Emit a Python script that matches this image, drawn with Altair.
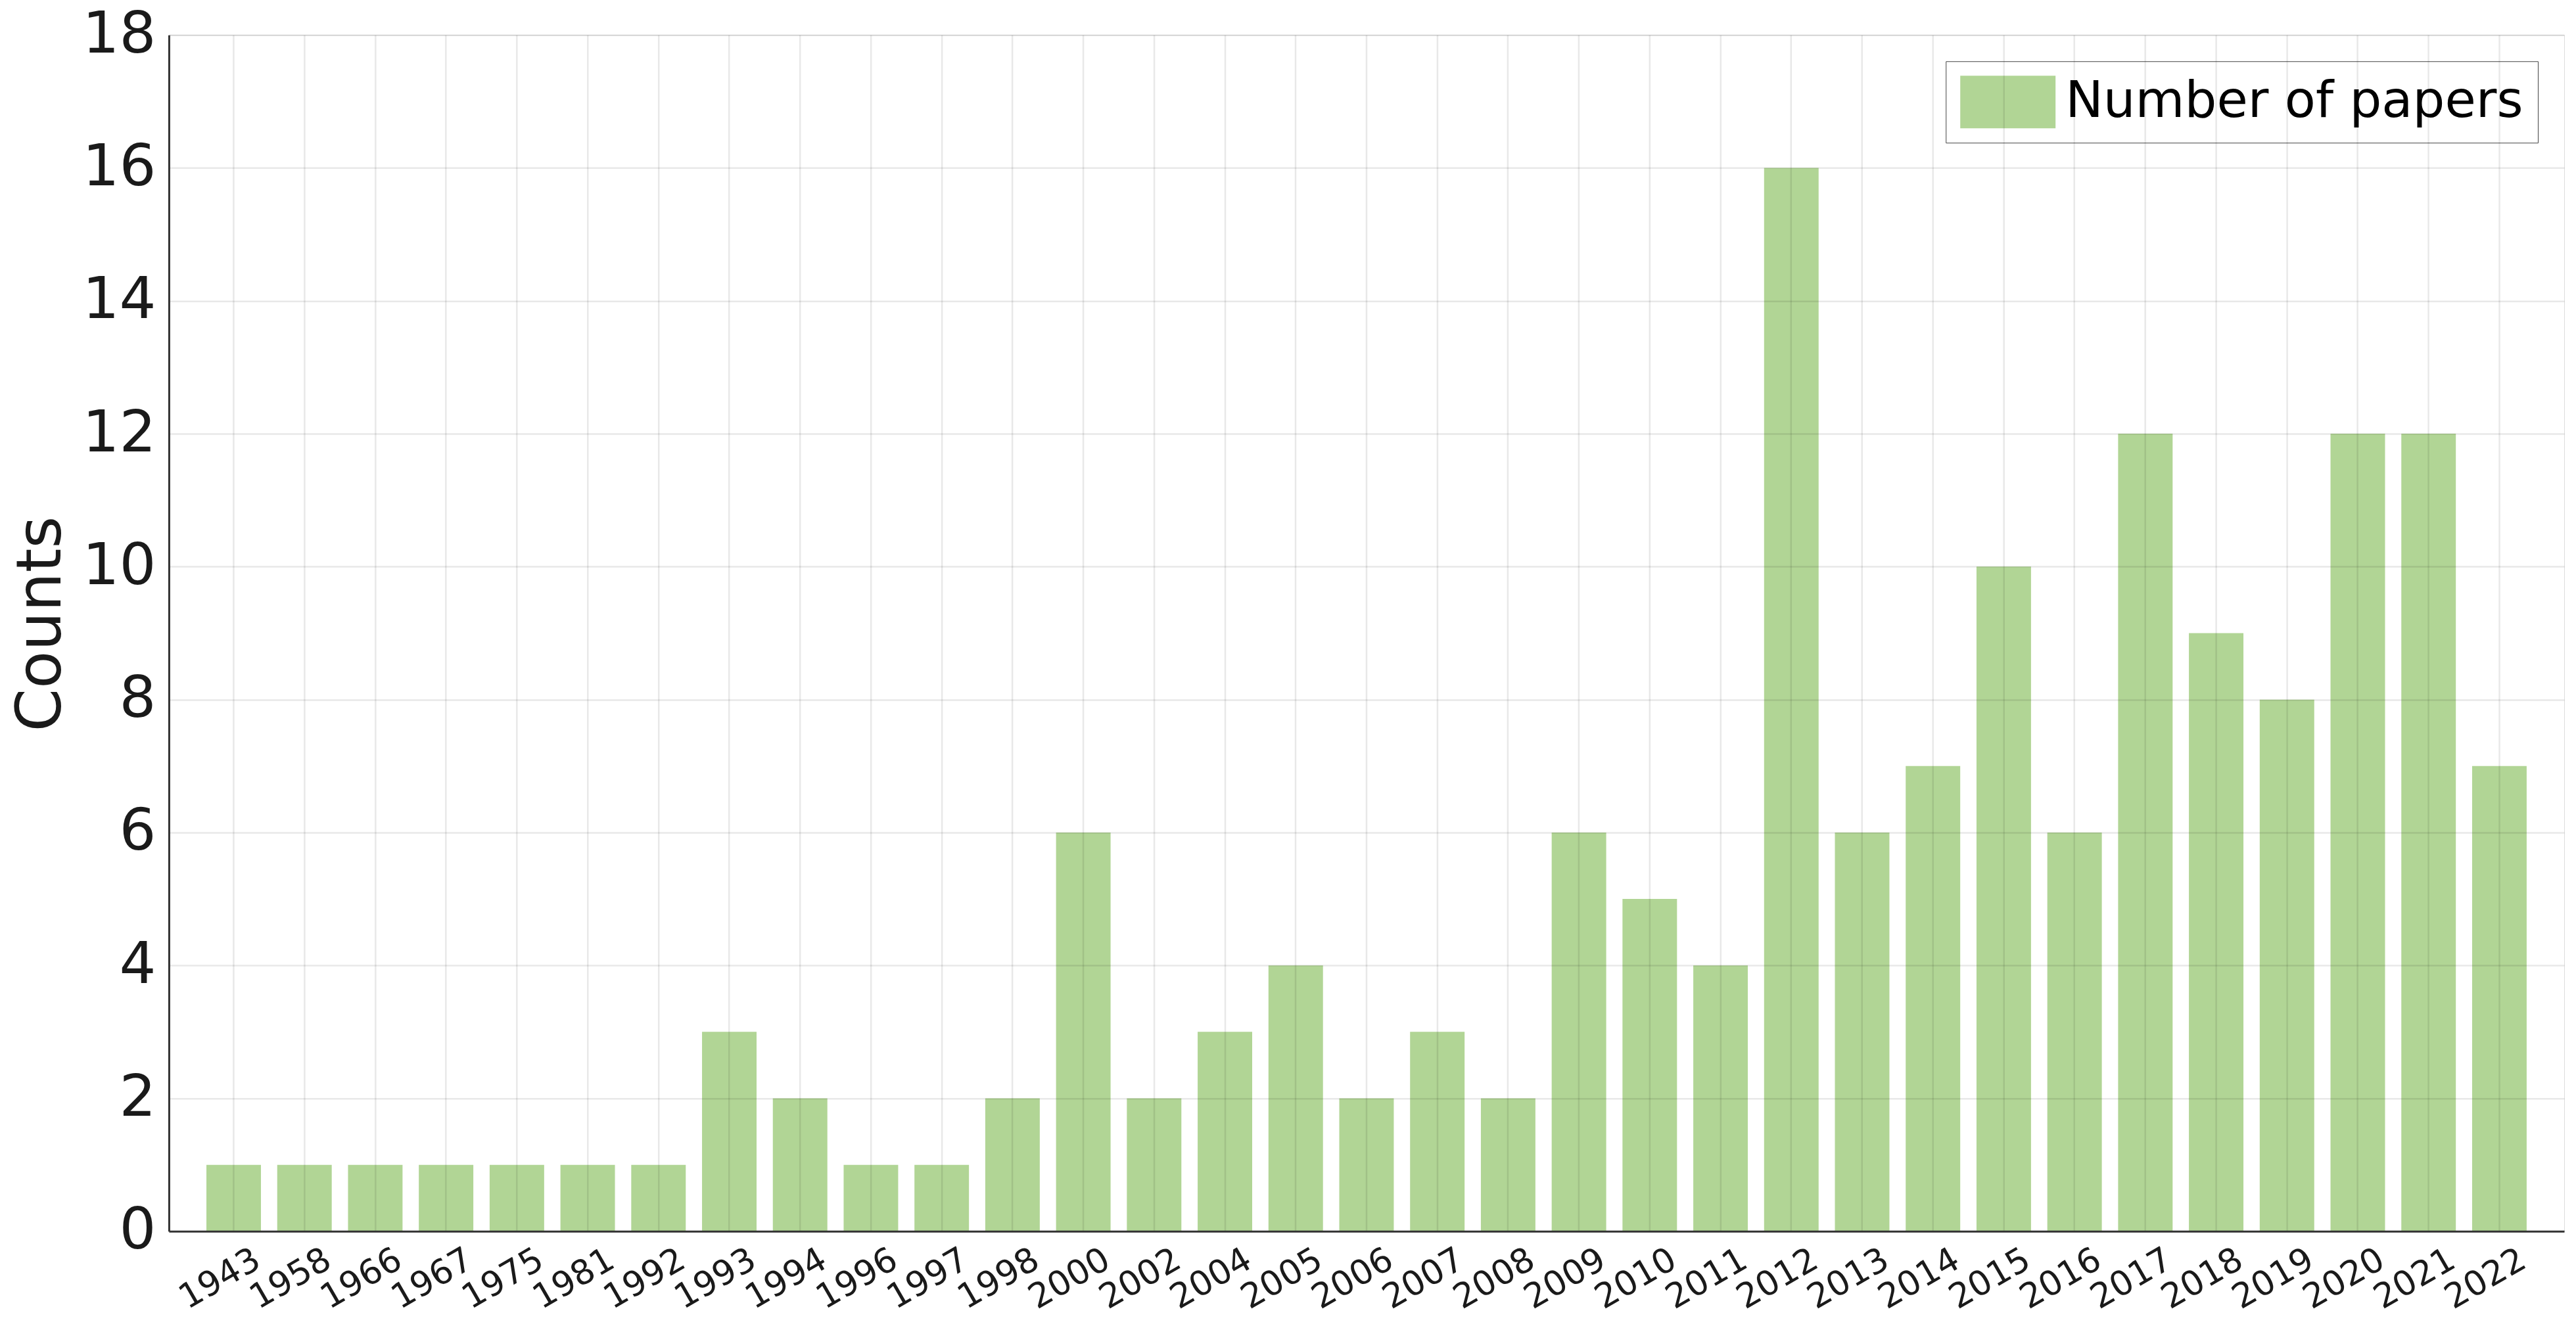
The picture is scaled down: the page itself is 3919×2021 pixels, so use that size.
import altair as alt
import pandas as pd

years = ["1943", "1958", "1966", "1967", "1975", "1981", "1992", "1993", "1994",
         "1996", "1997", "1998", "2000", "2002", "2004", "2005", "2006", "2007",
         "2008", "2009", "2010", "2011", "2012", "2013", "2014", "2015", "2016",
         "2017", "2018", "2019", "2020", "2021", "2022"]
counts = [1, 1, 1, 1, 1, 1, 1, 3, 2,
          1, 1, 2, 6, 2, 3, 4, 2, 3,
          2, 6, 5, 4, 16, 6, 7, 10, 6,
          12, 9, 8, 12, 12, 7]
series_name = "Number of papers"
y_ticks = [0, 2, 4, 6, 8, 10, 12, 14, 16, 18]

df = pd.DataFrame({"year": years, "count": counts, "series": [series_name] * len(years)})

FONT = "DejaVu Sans"
TXT = "#1a1a1a"

chart = alt.Chart(df).mark_bar().encode(
    x=alt.X(
        "year:N",
        sort=years,
        scale=alt.Scale(paddingInner=0.23, paddingOuter=0.53),
        axis=alt.Axis(
            title=None,
            labelAngle=330,
            labelAlign="center",
            labelBaseline="middle",
            labelPadding=72,
            labelOffset=-21,
            labelFontSize=52,
            labelFont=FONT,
            labelColor=TXT,
            labelOverlap=False,
            labelBound=False,
            ticks=False,
            grid=True,
            bandPosition=0.5,
            gridColor="#000000",
            gridOpacity=0.09,
            gridWidth=2.5,
            domainColor="#333333",
            domainWidth=3,
            zindex=1,
        ),
    ),
    y=alt.Y(
        "count:Q",
        scale=alt.Scale(domain=[0, 18], nice=False),
        axis=alt.Axis(
            title="Counts",
            values=y_ticks,
            titleFontSize=94,
            titleFont=FONT,
            titleFontWeight="normal",
            titleColor=TXT,
            titleAngle=270,
            titleBaseline="alphabetic",
            titleAlign="center",
            titleX=-165,
            titleY=896,
            labelFontSize=88,
            labelFont=FONT,
            labelColor=TXT,
            labelPadding=20,
            ticks=False,
            grid=True,
            gridColor="#000000",
            gridOpacity=0.09,
            gridWidth=2.5,
            domainColor="#333333",
            domainWidth=3,
            zindex=1,
        ),
    ),
    color=alt.Color(
        "series:N",
        scale=alt.Scale(domain=[series_name], range=["#b1d595"]),
        legend=alt.Legend(
            title=None,
            orient="top-right",
            offset=40,
            padding=22,
            strokeColor="#444444",
            fillColor="#ffffff",
            symbolType="M-1,-1L2.625,-1L2.625,1L-1,1Z",
            symbolSize=6400,
            symbolStrokeWidth=0,
            symbolOpacity=1,
            labelFontSize=77,
            labelFont=FONT,
            labelColor="#000000",
            labelOffset=80,
            labelLimit=2000,
        ),
    ),
).properties(
    width=3645,
    height=1821,
    padding={"left": 249, "top": 45, "right": 10, "bottom": 135},
    autosize=alt.AutoSizeParams(type="none"),
).configure_view(
    stroke="#555555",
    strokeWidth=3,
).configure_legend(
    strokeWidth=2.5,
).configure(background="#ffffff")

chart.save("out.html", embed_options={"renderer": "svg", "actions": False})
